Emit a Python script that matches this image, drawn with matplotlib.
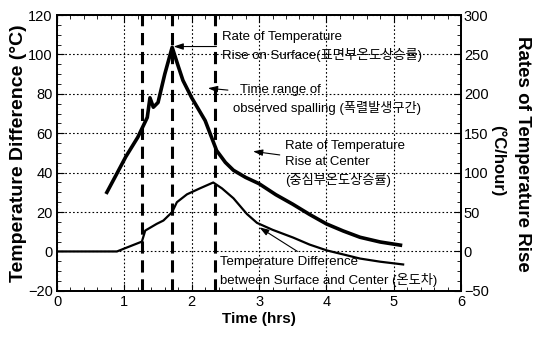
import numpy as np
import matplotlib
matplotlib.use('Agg')
import matplotlib.pyplot as plt
from matplotlib.ticker import MultipleLocator

# fonts: latin text in Liberation Sans, Korean falls back to Noto Sans CJK KR
plt.rcParams['font.family'] = ['Liberation Sans', 'Noto Sans CJK KR']

# Rate of temperature rise (right axis, degC/hour)
rate_time = [0.74, 0.89, 1.02, 1.20, 1.34, 1.38, 1.43, 1.50, 1.60, 1.71,
             1.80, 1.87, 2.00, 2.20, 2.37, 2.50, 2.62, 2.80, 3.00, 3.25, 3.50,
             3.75, 4.00, 4.25, 4.50, 4.80, 5.10]
rate_value = [75, 99, 120, 145, 170, 195, 183, 189, 225, 259,
              235, 217, 195, 166, 128, 113, 103, 94, 86, 72, 60,
              47, 35, 26, 18, 12, 8]

# Temperature difference between surface and center (left axis, degC)
diff_time = [0.0, 0.64, 0.89, 1.00, 1.26, 1.31, 1.48, 1.58, 1.71, 1.78, 1.93,
             2.12, 2.32, 2.45, 2.62, 2.82, 2.97, 3.20, 3.51, 3.75, 4.01, 4.25,
             4.50, 4.80, 5.14]
diff_value = [0, 0, 0, 1.5, 5, 10.6, 14, 15.7, 20, 25, 29,
              32, 35, 32, 27, 19, 14.5, 11, 7, 3.5, 0.5, -1.5,
              -3.6, -5.2, -6.6]

# spalling time range
spall_lines = [1.26, 1.70, 2.35]

xticks = [0, 1, 2, 3, 4, 5, 6]
left_ticks = [-20, 0, 20, 40, 60, 80, 100, 120]
right_ticks = [-50, 0, 50, 100, 150, 200, 250, 300]

fig = plt.figure(figsize=(5.33, 3.41), dpi=100)
ax = fig.add_axes([0.107, 0.147, 0.758, 0.809])
ax2 = ax.twinx()

ax.plot(diff_time, diff_value, color='black', lw=1.6)
ax2.plot(rate_time, rate_value, color='black', lw=2.6)

for x in spall_lines:
    ax.axvline(x, color='black', lw=2.2, ls=(0, (4, 2.2)))

ax.set_xlim(0, 6)
ax.set_ylim(-20, 120)
ax2.set_ylim(-50, 300)
ax.set_xticks(xticks)
ax.set_yticks(left_ticks)
ax2.set_yticks(right_ticks)
ax.xaxis.set_minor_locator(MultipleLocator(0.2))
ax.yaxis.set_minor_locator(MultipleLocator(5))
ax2.yaxis.set_minor_locator(MultipleLocator(12.5))

ax.grid(True, color='black', ls=(0, (1.5, 2)), lw=0.8)
ax.tick_params(which='both', direction='in', top=True, labelsize=10.5, pad=3)
ax.tick_params(which='major', length=5)
ax.tick_params(which='minor', length=3)
ax2.tick_params(which='both', direction='in', labelsize=10.5, pad=2)
ax2.tick_params(which='major', length=5)
ax2.tick_params(which='minor', length=3)
for a in (ax, ax2):
    for s in a.spines.values():
        s.set_linewidth(1.3)

ax.set_xlabel('Time (hrs)', fontsize=11, fontweight='bold', labelpad=2)
ax.set_ylabel('Temperature Difference (\u00b0C)', fontsize=14, fontweight='bold', labelpad=1)
fig.text(0.981, 0.55, 'Rates of Temperature Rise', rotation=-90, fontsize=13.5,
         fontweight='bold', ha='center', va='center')
fig.text(0.935, 0.53, '(\u00b0C/hour)', rotation=-90, fontsize=12,
         fontweight='bold', ha='center', va='center')

fs = 9.5
arrow = dict(arrowstyle='-|>,head_length=0.6,head_width=0.2', color='black', lw=0.8)
ax.annotate('Rate of Temperature\nRise on Surface(표면부온도상승률)', xy=(1.69, 104),
            xytext=(2.45, 104), fontsize=fs, va='center', linespacing=1.45,
            arrowprops=arrow)
ax.annotate('  Time range of\nobserved spalling (폭렬발생구간)', xy=(2.2, 83),
            xytext=(2.62, 77), fontsize=fs, va='center', linespacing=1.45,
            arrowprops=arrow)
ax.annotate('Rate of Temperature\nRise at Center\n(중심부온도상승률)', xy=(2.87, 51),
            xytext=(3.39, 44.5), fontsize=fs, va='center', linespacing=1.45,
            arrowprops=arrow)
ax.annotate('Temperature Difference\nbetween Surface and Center (온도차)', xy=(2.97, 13),
            xytext=(2.42, -10), fontsize=fs, va='center', linespacing=1.45,
            arrowprops=arrow)

fig.savefig('out.png', dpi=100)
